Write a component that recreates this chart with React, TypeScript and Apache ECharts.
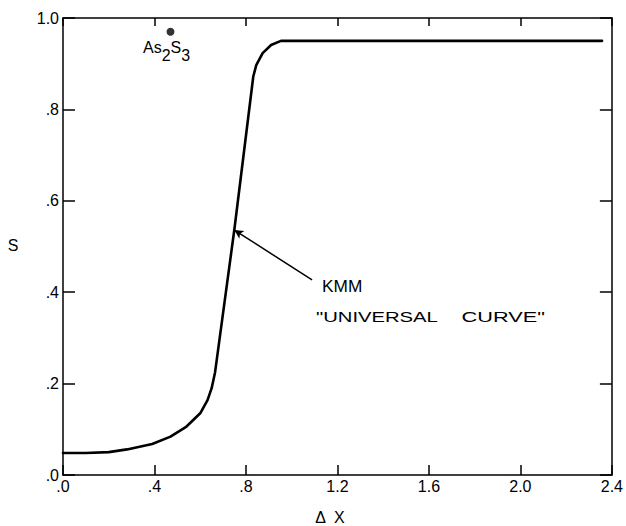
import React, { useEffect, useRef } from "react";
import * as echarts from "echarts";

// Universal curve S vs ΔX
const curveX = [0, 0.1, 0.2, 0.28, 0.39, 0.47, 0.54, 0.6, 0.632, 0.65, 0.665, 0.75, 0.832, 0.845, 0.873, 0.91, 0.953, 2.357];
const curveS = [0.048, 0.048, 0.05, 0.056, 0.068, 0.084, 0.106, 0.135, 0.164, 0.19, 0.225, 0.54, 0.872, 0.897, 0.923, 0.941, 0.95, 0.95];

// As2S3 point
const pointX = [0.47];
const pointS = [0.97];

// Arrow from label to curve (tail, head)
const arrowTail = [1.089, 0.427];
const arrowHead = [0.749, 0.536];

const xTickLabels = [".0", ".4", ".8", "1.2", "1.6", "2.0", "2.4"];
const yTickLabels = [".0", ".2", ".4", ".6", ".8", "1.0"];

const FONT = "Liberation Sans";

export default function App() {
  const ref = useRef<HTMLDivElement>(null);
  useEffect(() => {
    if (!ref.current) return;
    const chart = echarts.init(ref.current, null, { renderer: "svg" });
    const axisLine = { show: true, onZero: false, lineStyle: { color: "#000", width: 1.5 } };
    chart.setOption({
      animation: false,
      backgroundColor: "#fff",
      grid: { left: 63, right: 12, top: 18, bottom: 51 },
      xAxis: [
        {
          type: "value",
          min: 0,
          max: 2.4,
          interval: 0.4,
          position: "bottom",
          axisLine,
          axisTick: { show: true, inside: true, length: 10, lineStyle: { color: "#000", width: 1.5 } },
          axisLabel: {
            color: "#000",
            fontFamily: FONT,
            fontSize: 16,
            margin: 3,
            formatter: (_v: number, i: number) => xTickLabels[i],
          },
          splitLine: { show: false },
        },
        {
          type: "value",
          min: 0,
          max: 2.4,
          interval: 0.4,
          position: "top",
          axisLine,
          axisTick: { show: true, inside: true, length: 8, lineStyle: { color: "#000", width: 1.5 } },
          axisLabel: { show: false },
          splitLine: { show: false },
        },
      ],
      yAxis: [
        {
          type: "value",
          min: 0,
          max: 1.0,
          interval: 0.2,
          position: "left",
          axisLine,
          axisTick: { show: true, inside: true, length: 12, lineStyle: { color: "#000", width: 1.5 } },
          axisLabel: {
            color: "#000",
            fontFamily: FONT,
            fontSize: 16,
            margin: 4,
            formatter: (_v: number, i: number) => yTickLabels[i],
          },
          splitLine: { show: false },
        },
        {
          type: "value",
          min: 0,
          max: 1.0,
          interval: 0.2,
          position: "right",
          axisLine,
          axisTick: { show: true, inside: true, length: 12, lineStyle: { color: "#000", width: 1.5 } },
          axisLabel: { show: false },
          splitLine: { show: false },
        },
      ],
      series: [
        {
          type: "line",
          data: curveX.map((x, i) => [x, curveS[i]]),
          showSymbol: false,
          smooth: false,
          lineStyle: { color: "#000", width: 2.6, join: "round", cap: "round" },
          silent: true,
          markLine: {
            silent: true,
            symbol: ["none", "arrow"],
            symbolSize: [7, 9],
            lineStyle: { color: "#000", width: 1.5, type: "solid" },
            label: { show: false },
            data: [[{ coord: arrowTail }, { coord: arrowHead }]],
          },
        },
        {
          type: "scatter",
          data: pointX.map((x, i) => [x, pointS[i]]),
          symbolSize: 8,
          itemStyle: { color: "#000" },
          silent: true,
        },
      ],
      graphic: [
        {
          type: "text",
          left: 143,
          top: 39,
          style: {
            text: "{n|As}{s|2}{n|S}{s|3}",
            fill: "#000",
            rich: {
              n: { fontFamily: FONT, fontSize: 16, lineHeight: 16, padding: [0, 0, 8, 0], color: "#000" },
              s: { fontFamily: FONT, fontSize: 16, lineHeight: 16, padding: [8, 0, 0, 0], color: "#000" },
            },
          },
        },
        {
          type: "text",
          x: 322,
          y: 287,
          scaleX: 1.08,
          style: { text: "KMM", fontFamily: FONT, fontSize: 16, fill: "#000", textAlign: "left", textVerticalAlign: "middle" },
        },
        {
          type: "text",
          x: 316,
          y: 317,
          scaleX: 1.35,
          style: { text: "\"UNIVERSAL", fontFamily: FONT, fontSize: 15, fill: "#000", textAlign: "left", textVerticalAlign: "middle" },
        },
        {
          type: "text",
          x: 545,
          y: 317,
          scaleX: 1.45,
          style: { text: "CURVE\"", fontFamily: FONT, fontSize: 15, fill: "#000", textAlign: "right", textVerticalAlign: "middle" },
        },
        {
          type: "text",
          x: 13,
          y: 245,
          style: { text: "S", fontFamily: FONT, fontSize: 16, fill: "#000", textAlign: "center", textVerticalAlign: "middle" },
        },
        {
          type: "text",
          x: 330,
          y: 517,
          style: { text: "Δ  X", fontFamily: FONT, fontSize: 16, fill: "#000", textAlign: "center", textVerticalAlign: "middle" },
        },
      ],
    });
    return () => chart.dispose();
  }, []);
  return (
    <div
      ref={ref}
      style={{ position: "fixed", left: 0, top: 0, width: 626, height: 526, background: "#fff" }}
    />
  );
}
